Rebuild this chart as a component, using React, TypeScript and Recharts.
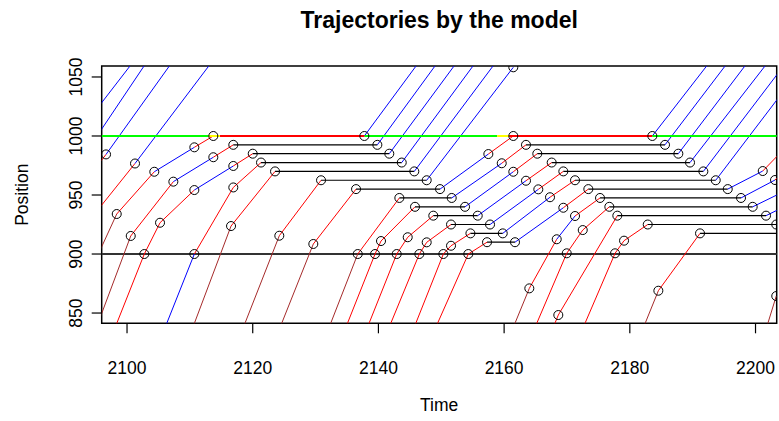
import { ComposedChart, Line, Scatter, XAxis, YAxis, ReferenceLine, ReferenceArea } from "recharts";

type Pt = [number, number];

const xTicks = [2100, 2120, 2140, 2160, 2180, 2200];
const yTicks = [850, 900, 950, 1000, 1050];

// signal at the stop line (position 1000): phase change times and colours
const signalTimes = [2094, 2113.0, 2114.8, 2137.8, 2158.9, 2160.8, 2183.6, 2205];
const signalCol = "gyrgyrg";

// vehicle trajectories: [time, position] points, one colour code per segment
// n = brown, r = red, b = blue, k = black (stopped)
const v01: Pt[] = [[2094.5, 1018.1], [2101.5, 1066.4]];
const v01Col = "b";
const v02: Pt[] = [[2094.5, 994.2], [2103.5, 1065.6]];
const v02Col = "b";
const v03: Pt[] = [[2094.5, 969.5], [2096.66, 984.4], [2108, 1068.7]];
const v03Col = "rb";
const v04: Pt[] = [[2094.5, 931.7], [2101.27, 976.7], [2114, 1066.3]];
const v04Col = "rb";
const v05: Pt[] = [[2094.5, 889.1], [2098.36, 933.9], [2104.34, 969.7], [2110.71, 990.4], [2113.73, 1000], [2137.76, 1000], [2147, 1066.6]];
const v05Col = "nrbrkb";
const v06: Pt[] = [[2095.0, 835.9], [2100.59, 915.3], [2107.37, 961.3], [2113.73, 982.0], [2116.91, 992.5], [2139.83, 992.5], [2150, 1066.6]];
const v06Col = "nrbrkb";
const v07: Pt[] = [[2097.9, 835], [2102.75, 900], [2105.25, 926.5], [2110.71, 954.2], [2116.91, 974.6], [2120.0, 985], [2141.73, 985], [2153, 1066.3]];
const v07Col = "rrrbrkb";
const v08: Pt[] = [[2105.8, 834.3], [2110.71, 900], [2116.91, 956.4], [2121.32, 977.5], [2143.71, 977.5], [2156, 1066.2]];
const v08Col = "brrkb";
const v09: Pt[] = [[2110.2, 834], [2116.55, 923.7], [2123.55, 970], [2145.71, 970], [2159.2, 1066.2]];
const v09Col = "nrkb";
const v10: Pt[] = [[2118.3, 835], [2124.23, 915.5], [2130.87, 962.5], [2147.68, 962.5], [2161.46, 1058.2]];
const v10Col = "nrkb";
const v11: Pt[] = [[2124.1, 834.5], [2129.64, 908.5], [2136.44, 955], [2149.8, 955], [2157.49, 984.7], [2161.46, 1000], [2183.58, 1000], [2193.2, 1066]];
const v11Col = "nrkbrkb";
const v12: Pt[] = [[2131.9, 834.4], [2136.71, 900], [2143.33, 947.5], [2151.66, 947.5], [2159.62, 976.9], [2163.48, 992.5], [2185.6, 992.5], [2196.2, 1066.6]];
const v12Col = "nrkbrkb";
const v13: Pt[] = [[2134.5, 833.6], [2139.46, 900], [2140.41, 911], [2145.82, 940], [2153.78, 940], [2161.46, 969.7], [2165.28, 985], [2187.72, 985], [2199.3, 1066.3]];
const v13Col = "rrrkbrkb";
const v14: Pt[] = [[2138, 834.5], [2142.91, 900], [2144.66, 914.2], [2148.73, 932.5], [2155.8, 932.5], [2163.48, 962.1], [2167.57, 977.5], [2189.58, 977.5], [2202.5, 1066.1]];
const v14Col = "rrrkbrkb";
const v15: Pt[] = [[2141.4, 834], [2146.51, 900], [2147.68, 909.9], [2151.55, 925], [2157.76, 925], [2165.44, 954.8], [2169.42, 970], [2191.7, 970], [2205, 1063.1]];
const v15Col = "rrrkbrkb";
const v16: Pt[] = [[2145.4, 834], [2150.33, 900], [2151.55, 907], [2154.64, 917.5], [2159.78, 917.5], [2167.3, 948.1], [2171.28, 962.5], [2193.67, 962.5], [2205, 1041.8]];
const v16Col = "rrrkbrkb";
const v17: Pt[] = [[2148.8, 834], [2154.3, 900], [2157.28, 910], [2161.73, 910], [2169.42, 939.2], [2173.4, 955], [2195.58, 955], [2201.15, 970.3], [2205, 991.5]];
const v17Col = "rrkbrkbr";
const v18: Pt[] = [[2161.2, 834.5], [2164.01, 870.9], [2168.37, 912.5], [2171.28, 932.2], [2175.26, 947.5], [2197.69, 947.5], [2203.1, 962.7], [2205, 973]];
const v18Col = "nrbrkbr";
const v19: Pt[] = [[2164.7, 835.2], [2169.96, 900.6], [2172.51, 920.3], [2176.74, 940], [2199.55, 940], [2205, 954.2]];
const v19Col = "rrrkb";
const v20: Pt[] = [[2167.6, 835], [2168.62, 848.3], [2178.01, 932.5], [2201.67, 932.5], [2205, 941.2]];
const v20Col = "rrkb";
const v21: Pt[] = [[2172.4, 835.5], [2177.65, 900.6], [2179.08, 911.3], [2182.85, 925], [2203.3, 925]];
const v21Col = "rrrk";
const v22: Pt[] = [[2182, 835.5], [2184.54, 868.9], [2191.17, 917.5], [2205, 917.5]];
const v22Col = "nrk";
const v23: Pt[] = [[2201.6, 835], [2203.3, 864.4]];
const v23Col = "n";

const vehicles: [Pt[], string][] = [
  [v01, v01Col], [v02, v02Col], [v03, v03Col], [v04, v04Col], [v05, v05Col], [v06, v06Col],
  [v07, v07Col], [v08, v08Col], [v09, v09Col], [v10, v10Col], [v11, v11Col], [v12, v12Col],
  [v13, v13Col], [v14, v14Col], [v15, v15Col], [v16, v16Col], [v17, v17Col], [v18, v18Col],
  [v19, v19Col], [v20, v20Col], [v21, v21Col], [v22, v22Col], [v23, v23Col],
];

const COLORS: Record<string, string> = {
  r: "#ff0000",
  b: "#0000ff",
  k: "#000000",
  n: "#a52a2a",
  g: "#00ff00",
  y: "#ffff00",
};

type Run = { code: string; data: { t: number; p: number }[] };

// merge consecutive segments of the same colour into one polyline
function toRuns(pts: Pt[], codes: string): Run[] {
  const runs: Run[] = [];
  for (let i = 0; i < codes.length; i++) {
    const a = pts[i];
    const b = pts[i + 1];
    const last = runs[runs.length - 1];
    if (last && last.code === codes[i]) last.data.push({ t: b[0], p: b[1] });
    else runs.push({ code: codes[i], data: [{ t: a[0], p: a[1] }, { t: b[0], p: b[1] }] });
  }
  return runs;
}

const trajRuns = vehicles.flatMap(([pts, col]) => toRuns(pts, col));
const signalRuns = toRuns(signalTimes.map((t) => [t, 1000] as Pt), signalCol);
const markers = vehicles.flatMap(([pts]) => pts.map(([t, p]) => ({ t, p })));

const FONT = "'Liberation Sans', Arial, Helvetica, sans-serif";
const X0 = 2095.97;
const X1 = 2203.37;
const Y0 = 841.3;
const Y1 = 1059.3;

const XTick = (props: any) => (
  <text x={props.x} y={374} textAnchor="middle" fontSize={17.5} fontFamily={FONT} fill="#000">
    {props.payload.value}
  </text>
);

const YTick = (props: any) => (
  <text
    x={82}
    y={props.y}
    transform={`rotate(-90, 82, ${props.y})`}
    textAnchor="middle"
    fontSize={17.5}
    fontFamily={FONT}
    fill="#000"
  >
    {props.payload.value}
  </text>
);

const Ring = (props: any) => (
  <circle cx={props.cx} cy={props.cy} r={4.5} fill="none" stroke="#000" strokeWidth={1} />
);

export default function App() {
  return (
    <div style={{ position: "absolute", left: 0, top: 0, width: 779, height: 421, background: "#fff" }}>
      <ComposedChart width={779} height={421} margin={{ top: 66, right: 2.3, bottom: 0, left: 0 }}>
        <XAxis
          dataKey="t"
          type="number"
          domain={[X0, X1]}
          allowDataOverflow
          ticks={xTicks}
          height={97.7}
          axisLine={false}
          tickLine={{ stroke: "#000", strokeWidth: 1.2 }}
          tickSize={10}
          tickMargin={0}
          tick={XTick}
          interval={0}
        />
        <YAxis
          dataKey="p"
          type="number"
          domain={[Y0, Y1]}
          allowDataOverflow
          ticks={yTicks}
          width={101.7}
          axisLine={false}
          tickLine={{ stroke: "#000", strokeWidth: 1.2 }}
          tickSize={10}
          tickMargin={0}
          tick={YTick}
          interval={0}
        />
        <ReferenceLine y={900} stroke="#333" strokeWidth={2} />
        {trajRuns.map((r, i) => (
          <Line
            key={"v" + i}
            data={r.data}
            dataKey="p"
            stroke={COLORS[r.code]}
            strokeWidth={r.code === "k" ? 1.2 : 1}
            dot={false}
            activeDot={false}
            legendType="none"
            isAnimationActive={false}
          />
        ))}
        {signalRuns.map((r, i) => (
          <Line
            key={"s" + i}
            data={r.data}
            dataKey="p"
            stroke={COLORS[r.code]}
            strokeWidth={2}
            dot={false}
            activeDot={false}
            legendType="none"
            isAnimationActive={false}
          />
        ))}
        <Scatter data={markers} dataKey="p" shape={<Ring />} isAnimationActive={false} legendType="none" />
        <ReferenceArea x1={X0} x2={X1} y1={Y0} y2={Y1} fill="none" fillOpacity={0} stroke="#000" strokeWidth={1.5} />
      </ComposedChart>
      <svg width={779} height={421} style={{ position: "absolute", left: 0, top: 0, pointerEvents: "none" }}>
        <text x={439.2} y={28} textAnchor="middle" fontSize={23} fontWeight="bold" fontFamily={FONT} fill="#000">
          Trajectories by the model
        </text>
        <text x={439.2} y={411} textAnchor="middle" fontSize={17.5} fontFamily={FONT} fill="#000">
          Time
        </text>
        <text
          x={28.3}
          y={194.7}
          transform="rotate(-90, 28.3, 194.7)"
          textAnchor="middle"
          fontSize={17.5}
          fontFamily={FONT}
          fill="#000"
        >
          Position
        </text>
      </svg>
    </div>
  );
}
